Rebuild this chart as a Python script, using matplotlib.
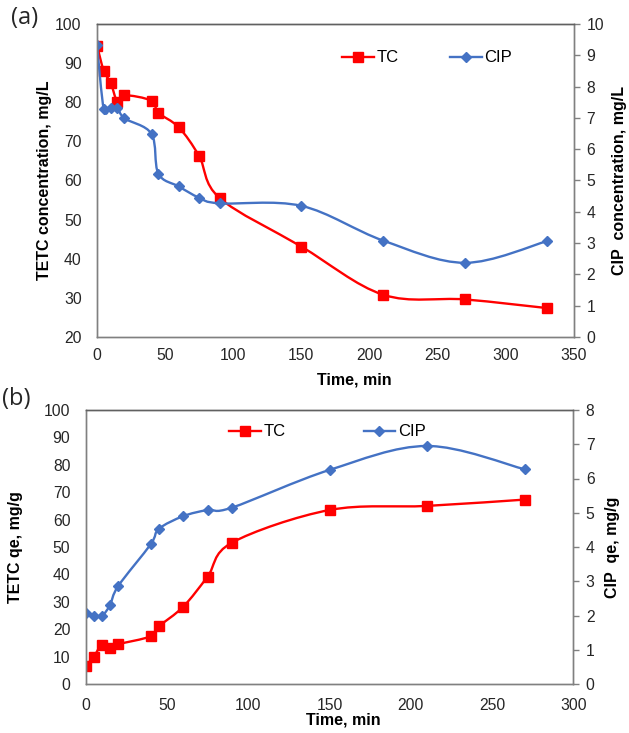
import numpy as np
import matplotlib.pyplot as plt
from matplotlib.path import Path
from matplotlib.patches import PathPatch
from matplotlib.lines import Line2D

plt.rcParams['font.family'] = ['Liberation Sans', 'DejaVu Sans']

# (a) concentration vs time
time_a = [0, 5, 10, 15, 20, 40, 45, 60, 75, 90, 150, 210, 270, 330]
tc_conc = [94.5, 88.0, 85.0, 80.1, 81.8, 80.4, 77.3, 73.6, 66.2, 55.5, 43.1, 30.8, 29.6, 27.4]
cip_conc = [9.33, 7.27, 7.32, 7.33, 6.99, 6.49, 5.22, 4.81, 4.45, 4.27, 4.19, 3.08, 2.37, 3.06]

# (b) uptake qe vs time
time_b = [0, 5, 10, 15, 20, 40, 45, 60, 75, 90, 150, 210, 270]
tc_qe = [6.6, 10.0, 14.4, 13.1, 14.5, 17.4, 21.0, 28.2, 39.2, 51.6, 63.5, 65.0, 67.3]
cip_qe = [2.06, 1.99, 1.99, 2.31, 2.86, 4.08, 4.53, 4.90, 5.08, 5.15, 6.25, 6.95, 6.27]

RED = '#FF0000'
BLUE = '#4472C4'
GREY = '#808080'
TICK_FS = 11.3
LABEL_FS = 11.5


def smooth_path(x, y):
    # Excel-like smoothed line: cubic bezier through the points
    pts = np.column_stack([x, y]).astype(float)
    n = len(pts)
    verts = [pts[0]]
    codes = [Path.MOVETO]
    for i in range(n - 1):
        p0 = pts[i - 1] if i > 0 else pts[i]
        p1 = pts[i]
        p2 = pts[i + 1]
        p3 = pts[i + 2] if i + 2 < n else pts[i + 1]
        c1 = p1 + (p2 - p0) / 6.0
        c2 = p2 - (p3 - p1) / 6.0
        verts += [c1, c2, p2]
        codes += [Path.CURVE4] * 3
    return Path(verts, codes)


def draw_series(ax, x, y, color, marker, ms):
    ax.add_patch(PathPatch(smooth_path(x, y), facecolor='none', edgecolor=color,
                           lw=1.7, capstyle='round', joinstyle='round'))
    ax.plot(x, y, linestyle='none', marker=marker, ms=ms, color=color, mec=color)


def style_axes(ax, ax2, xpad):
    for a in (ax, ax2):
        for s in a.spines.values():
            s.set_color(GREY)
            s.set_linewidth(1.0)
        a.spines['top'].set_color('#606060')
    ax.tick_params(axis='both', length=0, labelsize=TICK_FS, colors='#262626')
    ax.tick_params(axis='y', pad=11)
    ax.tick_params(axis='x', pad=xpad)
    ax2.tick_params(axis='y', length=4, width=1, color=GREY, direction='out',
                    labelsize=TICK_FS, labelcolor='#262626', pad=5)


fig = plt.figure(figsize=(6.29, 7.33), dpi=100)

# ---- panel (a)
ax = fig.add_axes([97 / 629, 1 - 337 / 733, 477 / 629, 313 / 733])
ax2 = ax.twinx()
draw_series(ax, time_a, tc_conc, RED, 's', 6.5)
draw_series(ax2, time_a, cip_conc, BLUE, 'D', 5)
ax.set_xlim(0, 350)
ax.set_ylim(20, 100)
ax2.set_ylim(0, 10)
ax.set_xticks(np.arange(0, 351, 50))
ax.set_yticks(np.arange(20, 101, 10))
ax2.set_yticks(np.arange(0, 11, 1))
style_axes(ax, ax2, 8)
ax.set_xlabel('Time, min', fontsize=LABEL_FS, fontweight='bold')
ax.xaxis.set_label_coords(0.54, -0.112)
ax.set_ylabel('TETC concentration, mg/L', fontsize=LABEL_FS, fontweight='bold')
ax.yaxis.set_label_coords(-0.094, 0.5)
ax2.set_ylabel('CIP  concentration, mg/L', fontsize=LABEL_FS, fontweight='bold', rotation=90)
ax2.yaxis.set_label_coords(1.080, 0.5)

# ---- panel (b)
bx = fig.add_axes([85.7 / 629, 1 - 684 / 733, 487.6 / 629, 274 / 733])
bx2 = bx.twinx()
draw_series(bx, time_b, tc_qe, RED, 's', 6.5)
draw_series(bx2, time_b, cip_qe, BLUE, 'D', 5)
bx.set_xlim(0, 300)
bx.set_ylim(0, 100)
bx2.set_ylim(0, 8)
bx.set_xticks(np.arange(0, 301, 50))
bx.set_yticks(np.arange(0, 101, 10))
bx2.set_yticks(np.arange(0, 9, 1))
style_axes(bx, bx2, 10)
bx.set_xlabel('Time, min', fontsize=LABEL_FS, fontweight='bold')
bx.xaxis.set_label_coords(0.528, -0.104)
bx.set_ylabel('TETC qe, mg/g', fontsize=LABEL_FS, fontweight='bold')
bx.yaxis.set_label_coords(-0.129, 0.5)
bx2.set_ylabel('CIP  qe, mg/g', fontsize=LABEL_FS, fontweight='bold', rotation=90)
bx2.yaxis.set_label_coords(1.065, 0.5)

# legends
tc_handle = Line2D([], [], color=RED, lw=1.7, marker='s', ms=6.5)
cip_handle = Line2D([], [], color=BLUE, lw=1.7, marker='D', ms=5)
fig.legend([tc_handle, cip_handle], ['TC', 'CIP'], ncol=2, frameon=False,
           loc='center left', bbox_to_anchor=(342 / 629, 1 - 58 / 733),
           fontsize=12, handlelength=1.9, handletextpad=0.15, columnspacing=3.1,
           borderpad=0, borderaxespad=0)
fig.legend([tc_handle, cip_handle], ['TC', 'CIP'], ncol=2, frameon=False,
           loc='center left', bbox_to_anchor=(229 / 629, 1 - 432 / 733),
           fontsize=12, handlelength=1.9, handletextpad=0.15, columnspacing=4.7,
           borderpad=0, borderaxespad=0)

fig.text(11 / 629, 1 - 18 / 733, '(a)', fontsize=17, family=['Open Sans', 'DejaVu Sans'],
         va='center', ha='left', color='#262626')
fig.text(2 / 629, 1 - 399 / 733, '(b)', fontsize=17, family=['Open Sans', 'DejaVu Sans'],
         va='center', ha='left', color='#262626')

fig.savefig('out.png', dpi=100)
